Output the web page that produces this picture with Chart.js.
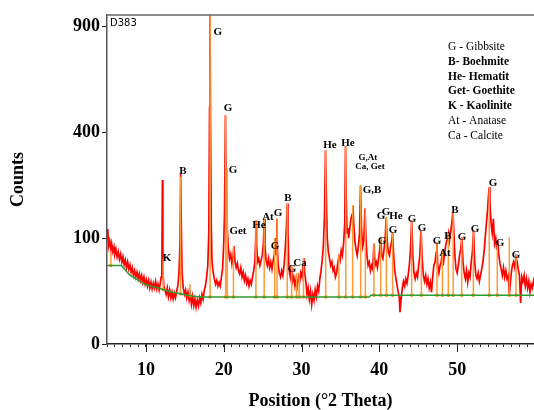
<!DOCTYPE html>
<html>
<head>
<meta charset="utf-8">
<script src="https://cdn.jsdelivr.net/npm/chart.js@4.4.1/dist/chart.umd.min.js"></script>
<style>
  html, body { margin: 0; padding: 0; background: #fff; overflow: hidden; }
  #xrdChart { display: block; }
</style>
</head>
<body>
<canvas id="xrdChart" width="534" height="410"></canvas>
<script>
// Scan (°2 Theta / counts)
const scanPos = [
  5.0, 5.1, 5.2, 5.35, 5.5, 5.6, 5.75, 5.9, 6.0, 6.15, 6.3, 6.45, 6.6, 6.75, 6.9, 7.05, 7.2, 7.35, 7.5, 7.65,
  7.8, 7.95, 8.1, 8.25, 8.4, 8.55, 8.7, 8.85, 9.0, 9.15, 9.3, 9.45, 9.6, 9.75, 9.9, 10.05, 10.2, 10.35, 10.5, 10.65,
  10.8, 10.95, 11.1, 11.25, 11.4, 11.55, 11.7, 11.85, 11.95, 12.05, 12.12, 12.18, 12.3, 12.45, 12.6, 12.75, 12.9, 13.05, 13.2, 13.35,
  13.5, 13.65, 13.8, 13.95, 14.1, 14.25, 14.38, 14.47, 14.55, 14.65, 14.8, 14.95, 15.1, 15.25, 15.4, 15.55, 15.7, 15.85, 16.0, 16.15,
  16.3, 16.45, 16.6, 16.75, 16.9, 17.05, 17.2, 17.35, 17.5, 17.65, 17.8, 17.95, 18.08, 18.18, 18.23, 18.3, 18.4, 18.5, 18.65, 18.8,
  18.95, 19.1, 19.25, 19.4, 19.55, 19.7, 19.85, 20.0, 20.1, 20.22, 20.3, 20.38, 20.45, 20.6, 20.75, 20.9, 21.05, 21.2, 21.32, 21.45,
  21.6, 21.75, 21.9, 22.05, 22.2, 22.35, 22.5, 22.65, 22.8, 22.95, 23.1, 23.25, 23.4, 23.55, 23.7, 23.85, 24.0, 24.1, 24.15, 24.22,
  24.35, 24.5, 24.65, 24.8, 24.95, 25.1, 25.2, 25.3, 25.45, 25.6, 25.75, 25.9, 26.05, 26.2, 26.35, 26.5, 26.6, 26.68, 26.75, 26.82,
  26.9, 27.0, 27.15, 27.3, 27.45, 27.6, 27.75, 27.9, 28.05, 28.16, 28.25, 28.35, 28.45, 28.55, 28.7, 28.85, 29.0, 29.15, 29.3, 29.45,
  29.6, 29.75, 29.9, 30.05, 30.2, 30.3, 30.4, 30.55, 30.7, 30.85, 31.0, 31.15, 31.3, 31.45, 31.6, 31.75, 31.9, 32.05, 32.2, 32.35,
  32.5, 32.65, 32.8, 32.95, 33.08, 33.18, 33.3, 33.45, 33.6, 33.75, 33.9, 34.05, 34.2, 34.35, 34.5, 34.65, 34.8, 34.95, 35.1, 35.25,
  35.4, 35.55, 35.65, 35.75, 35.85, 35.95, 36.05, 36.2, 36.35, 36.5, 36.6, 36.7, 36.85, 37.0, 37.15, 37.3, 37.45, 37.58, 37.7, 37.85,
  38.0, 38.15, 38.25, 38.4, 38.55, 38.7, 38.85, 39.0, 39.15, 39.3, 39.45, 39.6, 39.75, 39.9, 40.05, 40.18, 40.3, 40.45, 40.6, 40.75,
  40.88, 41.0, 41.15, 41.3, 41.45, 41.6, 41.7, 41.82, 41.95, 42.1, 42.25, 42.4, 42.55, 42.65, 42.8, 42.95, 43.1, 43.25, 43.4, 43.55,
  43.7, 43.85, 44.0, 44.15, 44.3, 44.45, 44.6, 44.75, 44.9, 45.05, 45.2, 45.35, 45.5, 45.65, 45.8, 45.95, 46.1, 46.25, 46.4, 46.55,
  46.7, 46.85, 47.0, 47.15, 47.3, 47.4, 47.5, 47.65, 47.8, 47.95, 48.1, 48.2, 48.35, 48.5, 48.65, 48.8, 48.9, 49.0, 49.15, 49.3,
  49.45, 49.55, 49.7, 49.85, 50.0, 50.15, 50.3, 50.45, 50.6, 50.75, 50.9, 51.05, 51.2, 51.35, 51.5, 51.65, 51.8, 51.95, 52.1, 52.25,
  52.4, 52.55, 52.7, 52.85, 53.0, 53.15, 53.3, 53.45, 53.6, 53.75, 53.9, 54.0, 54.1, 54.2, 54.35, 54.5, 54.65, 54.8, 54.95, 55.1,
  55.2, 55.35, 55.5, 55.65, 55.8, 55.95, 56.1, 56.25, 56.4, 56.55, 56.7, 56.8, 56.95, 57.1, 57.25, 57.4, 57.55, 57.7, 57.85, 58.0,
  58.15, 58.3, 58.45, 58.6, 58.75, 58.9, 59.05, 59.2, 59.35, 59.5, 59.65, 59.8, 59.9
];
const scanCounts = [
  100, 118, 85, 95, 80, 90, 76, 84, 72, 80, 68, 76, 64, 72, 60, 68, 56, 63, 52, 60,
  50, 56, 46, 52, 42, 48, 40, 46, 38, 44, 36, 42, 34, 40, 32, 37, 30, 36, 28, 34,
  27, 33, 28, 35, 27, 32, 26, 33, 40, 52, 240, 48, 30, 26, 22, 28, 20, 26, 19, 24,
  18, 23, 19, 25, 30, 45, 90, 259, 120, 45, 28, 22, 26, 19, 24, 17, 22, 14, 20, 13,
  18, 12, 17, 13, 19, 15, 22, 18, 26, 30, 40, 55, 110, 500, 1000, 450, 120, 60, 45, 38,
  32, 36, 30, 34, 30, 40, 50, 90, 150, 467, 200, 275, 120, 80, 65, 72, 58, 70, 85, 60,
  52, 58, 48, 44, 52, 40, 46, 36, 42, 33, 38, 30, 36, 32, 40, 48, 60, 95, 136, 90,
  60, 65, 55, 62, 70, 90, 140, 85, 62, 55, 65, 52, 60, 50, 62, 70, 100, 70, 90, 140,
  80, 55, 45, 40, 48, 42, 55, 80, 120, 176, 110, 60, 45, 40, 55, 35, 40, 30, 38, 30,
  40, 34, 45, 40, 55, 66, 45, 35, 22, 28, 18, 25, 14, 22, 17, 26, 20, 30, 25, 38,
  48, 62, 85, 150, 335, 200, 100, 75, 65, 55, 60, 48, 52, 40, 45, 58, 68, 62, 78, 70,
  90, 130, 349, 180, 110, 120, 100, 120, 140, 150, 171, 130, 95, 80, 70, 85, 110, 224, 120, 85,
  95, 164, 110, 70, 55, 60, 48, 55, 50, 90, 55, 60, 52, 65, 80, 101, 70, 65, 80, 100,
  143, 95, 75, 70, 85, 95, 111, 75, 50, 40, 32, 25, 20, 9, 18, 28, 35, 30, 38, 33,
  42, 55, 80, 136, 70, 45, 38, 45, 40, 55, 70, 115, 65, 42, 35, 42, 32, 38, 28, 34,
  24, 40, 55, 60, 75, 92, 55, 45, 55, 60, 78, 55, 70, 85, 95, 100, 109, 95, 110, 130,
  155, 120, 70, 50, 45, 55, 70, 80, 101, 60, 45, 38, 48, 34, 45, 40, 60, 75, 115, 60,
  42, 38, 45, 35, 42, 50, 60, 75, 100, 130, 160, 190, 220, 180, 130, 110, 140, 90, 100, 80,
  95, 70, 58, 50, 42, 52, 40, 48, 38, 42, 22, 30, 45, 55, 60, 52, 67, 60, 50, 42,
  15, 40, 35, 42, 30, 38, 28, 35, 24, 32, 28, 35, 30
];

// Background line
const bgPos = [5, 6.85, 7.9, 9.6, 10.1, 11.4, 13.1, 15.7, 16.9, 38.7, 38.9, 60];
const bgCounts = [55, 55, 42.5, 33, 31, 28.5, 24.3, 20.7, 19.8, 19.8, 21.3, 21.3];

// Peak list sticks
const peakPos = [5.5, 12.22, 14.45, 15.66, 18.25, 20.24, 20.45, 21.25, 24.14, 25.2, 26.55, 26.85, 28.16, 28.73, 29.37, 29.7,
  30.25, 33.1, 34.8, 35.68, 36.57, 37.6, 38.2, 39.3, 40.17, 40.9, 41.7, 44.15, 45.4, 47.4, 48.1, 48.86, 49.48, 50.58,
  52.08, 54.12, 55.15, 56.7, 57.56];
const peakTop = [75, 65, 250, 32, 1000, 467, 275, 85, 136, 140, 100, 140, 176, 55, 45, 45,
  66, 335, 70, 349, 171, 224, 164, 90, 101, 143, 111, 136, 115, 92, 78, 109, 155, 101,
  115, 220, 95, 101, 67];

// Phase labels
const labText = ['K', 'B', 'G', 'G', 'G', 'Get', 'He', 'At', 'G', 'G', 'B', 'G', 'Ca', 'He', 'He', 'G,At', 'Ca, Get', 'G,B',
  'G', 'G', 'G', 'He', 'G', 'G', 'G', 'G', 'At', 'B', 'B', 'G', 'G', 'G', 'G', 'G'];
const labPos = [12.7, 14.76, 19.25, 20.54, 21.18, 21.83, 24.53, 25.68, 26.97, 26.58, 28.25, 28.77, 29.8, 33.65, 35.96, 38.53, 38.79, 39.05,
  40.33, 40.2, 40.85, 42.13, 41.75, 44.19, 45.48, 47.4, 48.43, 48.82, 49.72, 50.62, 52.29, 54.6, 55.5, 57.56];
const labCounts = [66, 266, 869, 496, 269, 113, 127, 143, 152, 86, 189, 50, 59, 352, 359, 311, 281, 210,
  95, 147, 154, 147, 115, 140, 119, 94, 73, 103, 161, 101, 117, 230, 90, 71];

const legendLines = ['G - Gibbsite', 'B- Boehmite', 'He- Hematit', 'Get- Goethite', 'K - Kaolinite', 'At - Anatase', 'Ca - Calcite'];
const legendBold = [false, true, true, true, true, false, false];

const xTicks = [10, 20, 30, 40, 50];
const yTicks = [0, 100, 400, 900];

// square-root count axis
class SqrtScale extends Chart.LinearScale {
    static id = 'sqrt';
    static defaults = Chart.LinearScale.defaults;
    getPixelForValue(v) {
        if (v === null || v === undefined || isNaN(v)) return NaN;
        const a = Math.sqrt(Math.max(this.min, 0)), b = Math.sqrt(this.max);
        return this.getPixelForDecimal((Math.sqrt(Math.max(v, 0)) - a) / (b - a));
    }
    getValueForPixel(p) {
        const a = Math.sqrt(Math.max(this.min, 0)), b = Math.sqrt(this.max);
        const s = a + this.getDecimalForPixel(p) * (b - a);
        return s * s;
    }
}
Chart.register(SqrtScale);

function bgAt(x) {
    for (let i = 1; i < bgPos.length; i++) {
        if (x <= bgPos[i]) {
            const t = (x - bgPos[i - 1]) / (bgPos[i] - bgPos[i - 1]);
            return bgCounts[i - 1] + t * (bgCounts[i] - bgCounts[i - 1]);
        }
    }
    return bgCounts[bgCounts.length - 1];
}

const scanData = scanPos.map((x, i) => ({ x: x, y: scanCounts[i] }));
const bgData = bgPos.map((x, i) => ({ x: x, y: bgCounts[i] }));
const stickData = [];
peakPos.forEach((x, i) => {
    stickData.push({ x: x, y: bgAt(x) }, { x: x, y: peakTop[i] }, { x: x, y: null });
});
const stickBase = peakPos.map(x => ({ x: x, y: bgAt(x) }));

const serif = 'Liberation Serif';

const overlay = {
    id: 'overlay',
    afterDraw(chart) {
        const { ctx, chartArea: area, scales: { x, y } } = chart;
        ctx.save();
        // top frame
        ctx.strokeStyle = '#666';
        ctx.lineWidth = 1.5;
        ctx.beginPath();
        ctx.moveTo(area.left, area.top);
        ctx.lineTo(area.right, area.top);
        ctx.stroke();
        // longer major ticks on x
        ctx.strokeStyle = '#222';
        ctx.lineWidth = 1;
        xTicks.forEach(v => {
            const px = Math.round(x.getPixelForValue(v)) + 0.5;
            ctx.beginPath();
            ctx.moveTo(px, area.bottom);
            ctx.lineTo(px, area.bottom + 8);
            ctx.stroke();
        });
        // sample id
        ctx.fillStyle = '#000';
        ctx.font = '10px "DejaVu Sans"';
        ctx.textBaseline = 'top';
        ctx.textAlign = 'left';
        ctx.fillText('D383', area.left + 3, area.top + 3);
        // phase labels
        ctx.textAlign = 'center';
        ctx.textBaseline = 'middle';
        labText.forEach((t, i) => {
            ctx.font = (t.length > 3 ? 'bold 9px ' : 'bold 11px ') + '"' + serif + '"';
            ctx.fillText(t, x.getPixelForValue(labPos[i]), y.getPixelForValue(labCounts[i]));
        });
        // phase key
        ctx.textAlign = 'left';
        legendLines.forEach((t, i) => {
            ctx.font = (legendBold[i] ? 'bold ' : '') + '11.5px "' + serif + '"';
            ctx.fillText(t, 448, 47 + i * 14.8);
        });
        ctx.restore();
    }
};

document.addEventListener('DOMContentLoaded', () => {
    const ctx = document.getElementById('xrdChart').getContext('2d');
    new Chart(ctx, {
        type: 'line',
        data: {
            datasets: [
                {
                    label: 'Scan',
                    data: scanData,
                    borderColor: '#ff0000',
                    borderWidth: 1.7,
                    pointRadius: 0,
                    tension: 0,
                    order: 3
                },
                {
                    label: 'Peaks',
                    data: stickData,
                    borderColor: '#ff9a35',
                    borderWidth: 1.5,
                    pointRadius: 0,
                    spanGaps: false,
                    order: 2
                },
                {
                    label: 'Peak base',
                    data: stickBase,
                    showLine: false,
                    pointRadius: 1.8,
                    pointHoverRadius: 1.8,
                    pointBackgroundColor: '#ff8a00',
                    pointBorderWidth: 0,
                    order: 2
                },
                {
                    label: 'Background',
                    data: bgData,
                    borderColor: '#2f9a2f',
                    borderWidth: 1.5,
                    pointRadius: 0,
                    order: 1
                }
            ]
        },
        options: {
            responsive: false,
            animation: false,
            devicePixelRatio: 1,
            layout: { autoPadding: false, padding: { top: 15, right: 0, left: 0, bottom: 0 } },
            plugins: {
                legend: { display: false },
                tooltip: { enabled: false }
            },
            scales: {
                x: {
                    type: 'linear',
                    min: 5,
                    max: 59.87,
                    afterBuildTicks: s => {
                        const t = [];
                        for (let v = 5; v <= 59; v++) t.push({ value: v });
                        s.ticks = t;
                    },
                    afterFit: s => {
                        s.height = 66;
                        s.paddingLeft = 0;
                        s.paddingRight = 0;
                    },
                    grid: { drawOnChartArea: false, tickLength: 3, tickColor: '#222' },
                    border: { color: '#222', width: 1.5 },
                    ticks: {
                        autoSkip: false,
                        maxRotation: 0,
                        padding: 13,
                        color: '#000',
                        font: { family: serif, size: 18, weight: 'bold' },
                        callback: v => (xTicks.includes(v) ? String(v) : '')
                    },
                    title: {
                        display: true,
                        text: 'Position (°2 Theta)',
                        color: '#000',
                        font: { family: serif, size: 18, weight: 'bold' },
                        padding: { top: 0, bottom: -2 }
                    }
                },
                y: {
                    type: 'sqrt',
                    min: 0,
                    max: 966,
                    afterBuildTicks: s => { s.ticks = yTicks.map(v => ({ value: v })); },
                    afterFit: s => {
                        s.width = 107;
                        s.paddingTop = 0;
                        s.paddingBottom = 0;
                    },
                    grid: { drawOnChartArea: false, tickLength: 5, tickColor: '#222' },
                    border: { color: '#555', width: 1.5 },
                    ticks: {
                        padding: 2,
                        color: '#000',
                        font: { family: serif, size: 18, weight: 'bold' }
                    },
                    title: {
                        display: true,
                        text: 'Counts',
                        color: '#000',
                        font: { family: serif, size: 18, weight: 'bold' },
                        padding: { top: 8, bottom: 0 }
                    }
                }
            }
        },
        plugins: [overlay]
    });
});
</script>
</body>
</html>
